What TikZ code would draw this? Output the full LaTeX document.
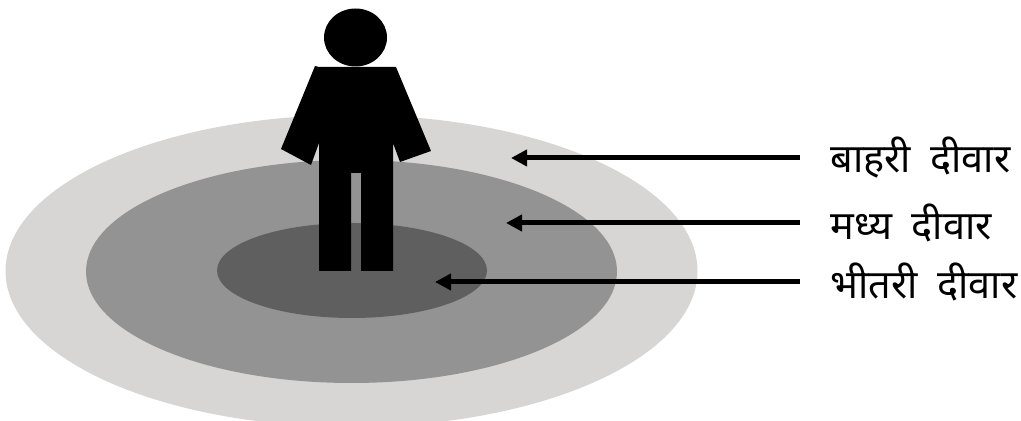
\documentclass[tikz,border=0pt]{standalone}
\usepackage{fontspec}
\usetikzlibrary{arrows.meta}
\newfontfamily\hindifont[Script=Devanagari,WordSpace=1.9]{Noto Sans}
\definecolor{outerwall}{RGB}{215,214,213}
\definecolor{middlewall}{RGB}{147,147,147}
\definecolor{innerwall}{RGB}{95,95,95}
\begin{document}
\begin{tikzpicture}[x=0.02cm, y=-0.02cm, every node/.style={anchor=west, inner xsep=0.6cm, inner ysep=0pt, font=\hindifont\fontsize{22.6}{23}\selectfont}, wallarrow/.style={-{Triangle[length=0.32cm, width=0.32cm]}, line width=0.1cm}]
			\useasboundingbox (0,0) rectangle (1021,421);
			\begin{scope}
				\clip (0,0) rectangle (1021,421);
				\fill[outerwall] (351.5,271) ellipse [x radius=346, y radius=156];
			\end{scope}
			\fill[middlewall] (351.5,271.5) ellipse [x radius=265.5, y radius=111.5];
			\fill[innerwall] (352,270.5) ellipse [x radius=135, y radius=47.5];
			\fill[black] (355.5,37.5) ellipse [x radius=31.5, y radius=29];
			\fill[black] (315,66)--(319,67)--(392,67)--(396,67)--(431,151)--(400,162)--(393,143)--(393,271)--(361,271)--(361,173)--(351,173)--(351,271)--(319,271)--(319,143)--(311,165)--(281,149)--cycle;
			\node (outerlabel) at (800,158) {बाहरी दीवार};
			\node (middlelabel) at (800,223) {मध्य दीवार};
			\node (innerlabel) at (800,282) {भीतरी दीवार};
			\coordinate (outertip) at (511,158);
			\coordinate (middletip) at (506,223);
			\coordinate (innertip) at (435,282);
			\draw[wallarrow] (outerlabel.west)--(outertip);
			\draw[wallarrow] (middlelabel.west)--(middletip);
			\draw[wallarrow] (innerlabel.west)--(innertip);
		\end{tikzpicture}
\end{document}
